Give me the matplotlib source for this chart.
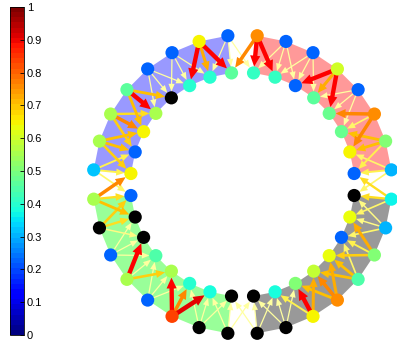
import numpy as np
import matplotlib
matplotlib.use("Agg")
import matplotlib.pyplot as plt
from matplotlib.patches import Polygon, FancyArrowPatch
from matplotlib.colors import LinearSegmentedColormap, Normalize
import matplotlib.colorbar as mcolorbar

plt.rcParams["font.family"] = ["Liberation Sans", "DejaVu Sans"]

# Node values (index k runs counter-clockwise from the east); NaN = no value (black)
nan = np.nan
outer_vals = [0.30, 0.50, 0.76, 0.22, 0.60, 0.22, 0.22, 0.75,
              0.22, 0.65, 0.22, 0.22, 0.46, 0.56, 0.55, 0.32,
              0.55, nan, 0.22, 0.56, 0.22, 0.83, nan, nan,
              nan, nan, 0.65, 0.76, 0.44, 0.50, 0.30, 0.37]
inner_vals = [0.22, 0.65, 0.48, 0.48, 0.46, 0.22, 0.42, 0.42,
              0.46, 0.40, 0.40, nan, 0.56, 0.65, 0.22, 0.65,
              0.22, nan, nan, 0.44, 0.56, 0.40, 0.38, nan,
              nan, 0.38, 0.50, 0.58, 0.64, 0.22, 0.64, nan]

# Edge weights from outer node k to inner nodes k-1, k, k+1
w_prev = [0.30, 0.35, 0.70, 0.20, 0.90, 0.20, 0.20, 0.90,
          0.20, 0.90, 0.20, 0.20, 0.55, 0.45, 0.55, 0.35,
          0.70, 0.50, 0.20, 0.90, 0.20, 0.90, 0.20, 0.20,
          0.20, 0.20, 0.35, 0.55, 0.55, 0.50, 0.30, 0.30]
w_same = [0.35, 0.55, 0.30, 0.20, 0.60, 0.20, 0.20, 0.90,
          0.20, 0.60, 0.20, 0.20, 0.90, 0.70, 0.55, 0.35,
          0.45, 0.45, 0.20, 0.20, 0.20, 0.70, 0.20, 0.20,
          0.20, 0.20, 0.90, 0.70, 0.55, 0.35, 0.25, 0.45]
w_next = [0.30, 0.55, 0.70, 0.20, 0.90, 0.20, 0.20, 0.70,
          0.20, 0.90, 0.20, 0.20, 0.55, 0.50, 0.50, 0.30,
          0.55, 0.25, 0.20, 0.50, 0.20, 0.95, 0.20, 0.20,
          0.20, 0.20, 0.60, 0.60, 0.30, 0.60, 0.25, 0.45]

sector_colors = ["#ff9999", "#9999ff", "#99ff99", "#999999"]
cbar_ticks = [0, 0.1, 0.2, 0.3, 0.4, 0.5, 0.6, 0.7, 0.8, 0.9, 1]
cbar_labels = ["0", "0.1", "0.2", "0.3", "0.4", "0.5", "0.6", "0.7", "0.8", "0.9", "1"]

n = len(outer_vals)
theta = np.deg2rad(360.0 / n * (np.arange(n) + 0.5))
r_out, r_in = 1.0, 0.75
xo, yo = r_out * np.cos(theta), r_out * np.sin(theta)
xi, yi = r_in * np.cos(theta), r_in * np.sin(theta)

jet = plt.get_cmap("jet", 64)
edge_cmap = LinearSegmentedColormap.from_list(
    "edges", [(0.0, "#ffffa0"), (0.2, "#ffffa0"), (0.4, "#ffee30"),
              (0.55, "#ffc000"), (0.7, "#ff8800"), (0.9, "#ff0000"),
              (1.0, "#cc0000")])

fig = plt.figure(figsize=(3.97, 3.42), dpi=100)
ax = fig.add_axes([0.2154, 0.0015, 0.791, 0.918])
ax.set_xlim(-1.05, 1.05)
ax.set_ylim(-1.05, 1.05)
ax.axis("off")

# Quadrant bands
per_q = n // 4
for q in range(4):
    idx = np.arange(q * per_q, (q + 1) * per_q)
    verts = np.concatenate([np.column_stack([xo[idx], yo[idx]]),
                            np.column_stack([xi[idx][::-1], yi[idx][::-1]])])
    ax.add_patch(Polygon(verts, closed=True, facecolor=sector_colors[q],
                         edgecolor="none", zorder=1))

# Directed edges, weakest drawn first
edges = []
for k in range(n):
    for off, w in zip((-1, 0, 1), (w_prev[k], w_same[k], w_next[k])):
        edges.append((w, k, (k + off) % n))
edges.sort()
for w, s, t in edges:
    f = (w - 0.2) / 0.75
    tail = 0.9 + 2.4 * f
    hw = 4.5 + 3.0 * f
    hl = 5.5 + 2.5 * f
    arr = FancyArrowPatch((xo[s], yo[s]), (xi[t], yi[t]),
                          arrowstyle=f"simple,head_length={hl},head_width={hw},tail_width={tail}",
                          mutation_scale=1, shrinkA=0, shrinkB=4.6,
                          facecolor=edge_cmap(w), edgecolor="none", lw=0, zorder=2)
    ax.add_patch(arr)

# Nodes
def node_colors(vals):
    return [(0, 0, 0, 1) if np.isnan(v) else jet(v) for v in vals]

ax.scatter(xo, yo, s=90, c=node_colors(outer_vals), edgecolors="none", zorder=3, clip_on=False)
ax.scatter(xi, yi, s=90, c=node_colors(inner_vals), edgecolors="none", zorder=3, clip_on=False)

# Colour bar
cax = fig.add_axes([10 / 397, 7 / 342, 14 / 397, 328 / 342])
cb = mcolorbar.ColorbarBase(cax, cmap=jet, norm=Normalize(0, 1), orientation="vertical")
cb.set_ticks(cbar_ticks)
cb.set_ticklabels(cbar_labels)
cb.outline.set_linewidth(0.6)
cax.tick_params(axis="y", direction="in", length=3, width=0.6, labelsize=8, pad=2,
                right=True, left=False)

fig.savefig("out.png", dpi=100)
